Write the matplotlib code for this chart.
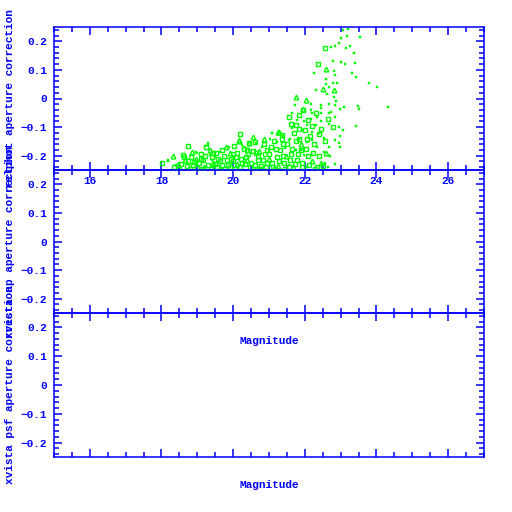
import numpy as np
import matplotlib
matplotlib.use("Agg")
import matplotlib.pyplot as plt
from matplotlib.ticker import MultipleLocator, FuncFormatter

# relphot aperture correction vs magnitude
# open squares
sq_mag = [18.01, 18.59, 18.74, 19.10, 19.24, 18.62, 18.82, 19.52, 20.01, 20.19,
          20.61, 20.44, 21.83, 21.60, 21.93, 22.37, 22.57, 21.37, 21.56, 21.74,
          18.35, 18.55, 18.70, 18.90, 19.00, 19.15, 19.30, 19.42, 19.55, 19.62,
          19.75, 19.85, 19.95, 20.05, 20.12, 20.25, 20.35, 20.48, 20.55, 20.68,
          20.78, 20.88, 20.95, 21.05, 21.12, 21.22, 21.30, 21.42, 21.50, 21.55,
          21.62, 21.70, 21.78, 21.85, 21.90, 22.00, 22.08, 22.15, 22.25, 22.35,
          22.45, 22.55, 22.65, 22.80, 19.70, 20.30, 20.85, 21.15, 21.35, 22.10,
          22.30, 21.95,
          18.80, 18.88, 19.05, 19.12, 19.22, 19.38, 19.48, 19.58, 19.68, 19.78,
          19.82, 19.92, 20.00, 20.08, 20.18, 20.22, 20.32, 20.42, 20.50, 20.62,
          20.70, 20.75, 20.82, 20.92, 21.00, 21.08, 21.18, 21.28, 21.38, 21.45,
          21.58, 21.65, 21.72, 21.80, 21.92, 22.02, 22.12, 22.22, 22.28, 22.40,
          22.50, 21.20, 20.95, 20.65, 20.40, 20.00, 19.45, 19.10, 18.75, 18.50,
          21.40, 21.75, 22.05, 22.20, 21.85, 22.40]
sq_cor = [-0.227, -0.198, -0.166, -0.194, -0.171, -0.205, -0.204, -0.192, -0.165, -0.124,
          -0.151, -0.157, -0.058, -0.089, -0.225, 0.121, 0.175, -0.128, -0.064, -0.093,
          -0.240, -0.228, -0.236, -0.222, -0.242, -0.215, -0.232, -0.205, -0.238, -0.220,
          -0.200, -0.232, -0.212, -0.245, -0.190, -0.225, -0.205, -0.240, -0.185, -0.215,
          -0.235, -0.195, -0.225, -0.170, -0.240, -0.205, -0.180, -0.225, -0.160, -0.240,
          -0.195, -0.120, -0.215, -0.140, -0.180, -0.110, -0.200, -0.130, -0.160, -0.240,
          -0.105, -0.150, -0.070, -0.100, -0.180, -0.175, -0.160, -0.150, -0.140, -0.075,
          -0.050, -0.040,
          -0.245, -0.232, -0.225, -0.245, -0.200, -0.245, -0.228, -0.210, -0.232, -0.245,
          -0.215, -0.240, -0.220, -0.205, -0.240, -0.210, -0.230, -0.195, -0.225, -0.232,
          -0.200, -0.245, -0.215, -0.240, -0.195, -0.225, -0.245, -0.220, -0.200, -0.245,
          -0.215, -0.175, -0.230, -0.195, -0.240, -0.175, -0.232, -0.190, -0.245, -0.200,
          -0.235, -0.175, -0.180, -0.190, -0.180, -0.195, -0.192, -0.210, -0.220, -0.245,
          -0.160, -0.150, -0.140, -0.095, -0.105, -0.125]

# open triangles
tri_mag = [18.31, 18.85, 19.80, 20.15, 20.43, 21.28, 20.86, 20.17, 21.75, 22.04,
           21.94, 22.59, 22.50, 22.81, 21.26, 22.44, 18.45, 18.95, 19.20, 19.45,
           19.65, 19.90, 20.10, 20.40, 20.60, 20.72, 21.00, 21.25, 21.48, 21.68,
           21.88, 22.20, 22.60, 20.55, 19.35, 18.65]
tri_cor = [-0.201, -0.186, -0.171, -0.145, -0.157, -0.118, -0.143, -0.148, 0.006, -0.005,
           -0.036, 0.102, 0.033, 0.030, -0.116, -0.227, -0.230, -0.210, -0.238, -0.225,
           -0.245, -0.190, -0.230, -0.215, -0.245, -0.185, -0.210, -0.235, -0.200, -0.240,
           -0.160, -0.220, -0.190, -0.135, -0.180, -0.215]

# small filled points
dot_mag = [23.06, 23.20, 23.19, 23.55, 23.00, 22.94, 22.85, 22.72, 23.15, 23.27,
           23.36, 22.78, 23.02, 23.13, 23.41, 22.25, 22.81, 22.83, 23.31, 23.43,
           23.80, 24.02, 22.59, 22.78, 22.91, 22.59, 22.67, 22.31, 22.62, 22.81,
           22.88, 24.32, 23.47, 23.51, 23.08, 22.85, 22.67, 22.44, 22.17, 21.73,
           22.46, 22.16, 22.99, 22.74, 22.20, 22.46, 22.67, 21.65, 22.34, 22.83,
           21.79, 21.97, 22.16, 22.44, 22.06, 22.30, 22.67, 22.94, 23.43, 23.06,
           21.65, 21.93, 22.20, 22.39, 21.09, 22.99, 22.53, 22.83, 22.96, 21.56,
           21.83, 22.06, 22.20, 22.34, 22.67, 22.99, 22.53, 22.71, 22.20, 21.97,
           21.74, 22.83, 22.57, 22.06, 22.64, 21.37, 21.56, 21.07, 21.40, 21.03,
           21.58, 20.26, 20.65, 21.23, 20.81, 20.44, 21.00, 21.46, 21.88, 18.18,
           18.41, 18.96, 19.22, 19.29, 19.35, 19.40, 19.50, 19.64, 19.89, 20.31,
           18.98, 18.19, 19.29]
dot_cor = [0.240, 0.243, 0.220, 0.216, 0.212, 0.195, 0.183, 0.181, 0.175, 0.183,
           0.160, 0.132, 0.129, 0.120, 0.123, 0.088, 0.096, 0.082, 0.090, 0.076,
           0.055, 0.041, 0.068, 0.055, 0.055, 0.050, 0.039, 0.030, 0.015, 0.006,
           -0.008, -0.031, -0.026, -0.037, -0.029, -0.024, -0.019, -0.023, -0.019, -0.024,
           -0.034, -0.040, -0.038, -0.046, -0.052, -0.052, -0.052, -0.052, -0.064, -0.064,
           -0.075, -0.078, -0.073, -0.078, -0.093, -0.093, -0.089, -0.099, -0.096, -0.110,
           -0.104, -0.110, -0.116, -0.122, -0.122, -0.130, -0.139, -0.145, -0.155, -0.145,
           -0.143, -0.151, -0.145, -0.171, -0.169, -0.169, -0.188, -0.201, -0.198, -0.198,
           -0.180, -0.230, -0.225, -0.239, -0.239, -0.227, -0.233, -0.120, -0.131, -0.143,
           -0.143, -0.163, -0.155, -0.151, -0.169, -0.180, -0.180, -0.174, -0.180, -0.218,
           -0.233, -0.186, -0.166, -0.163, -0.198, -0.215, -0.206, -0.186, -0.169, -0.169,
           -0.189, -0.215, -0.157]

ylabels = ["relphot aperture correction",
           "xvista ap aperture correction",
           "xvista psf aperture correction"]

blue = (0, 0, 1)
green = (0, 1, 0)
font = "Liberation Mono"

fig = plt.figure(figsize=(5.12, 5.12), dpi=100)
W = 512.0
left, width = 54 / W, 430 / W
panels = [(27, 170), (170, 313), (313, 457)]   # pixel top/bottom


def fmt(v, pos):
    if abs(v) < 1e-9:
        return "0"
    s = "%g" % v
    return s.replace("-", "\u2212")


axes = []
for i, (t, b) in enumerate(panels):
    ax = fig.add_axes([left, 1 - b / W, width, (b - t) / W])
    ax.set_facecolor("none")
    ax.set_zorder(3 - i)
    ax.set_xlim(15, 27)
    ax.set_ylim(-0.25, 0.25)
    ax.xaxis.set_major_locator(MultipleLocator(2))
    ax.xaxis.set_minor_locator(MultipleLocator(0.5))
    ax.yaxis.set_major_locator(MultipleLocator(0.1))
    ax.yaxis.set_minor_locator(MultipleLocator(0.02))
    ax.yaxis.set_major_formatter(FuncFormatter(fmt))
    ax.tick_params(which="both", direction="in", top=True, right=True,
                   color=blue, width=1.1, labelcolor=blue, labelsize=8)
    ax.tick_params(which="major", length=6)
    ax.tick_params(which="minor", length=3.5)
    ax.tick_params(axis="y", pad=5)
    ax.tick_params(axis="x", pad=4, labelbottom=(i == 0))
    for lab in ax.get_xticklabels() + ax.get_yticklabels():
        lab.set_fontfamily(font)
        lab.set_fontweight("bold")
    for sp in ax.spines.values():
        sp.set_color(blue)
        sp.set_linewidth(1.1)
    fig.text(10 / W, 1 - (t + b) / 2 / W, ylabels[i], rotation=90, color=blue,
             ha="center", va="center", fontsize=8, family=font, fontweight="bold")
    if i > 0:
        fig.text((54 + 215) / W, 1 - (b + 28) / W, "Magnitude", color=blue,
                 ha="center", va="center", fontsize=8, family=font, fontweight="bold")
    axes.append(ax)

ax = axes[0]
ax.plot(sq_mag, sq_cor, "s", mfc="none", mec=green, ms=3.4, mew=1.0, antialiased=False)
ax.plot(tri_mag, tri_cor, "^", mfc="none", mec=green, ms=3.4, mew=1.0, antialiased=False)
ax.plot(dot_mag, dot_cor, "s", mfc=green, mec=green, ms=2.0, mew=0.3, antialiased=False)

fig.savefig("out.png", dpi=100)
